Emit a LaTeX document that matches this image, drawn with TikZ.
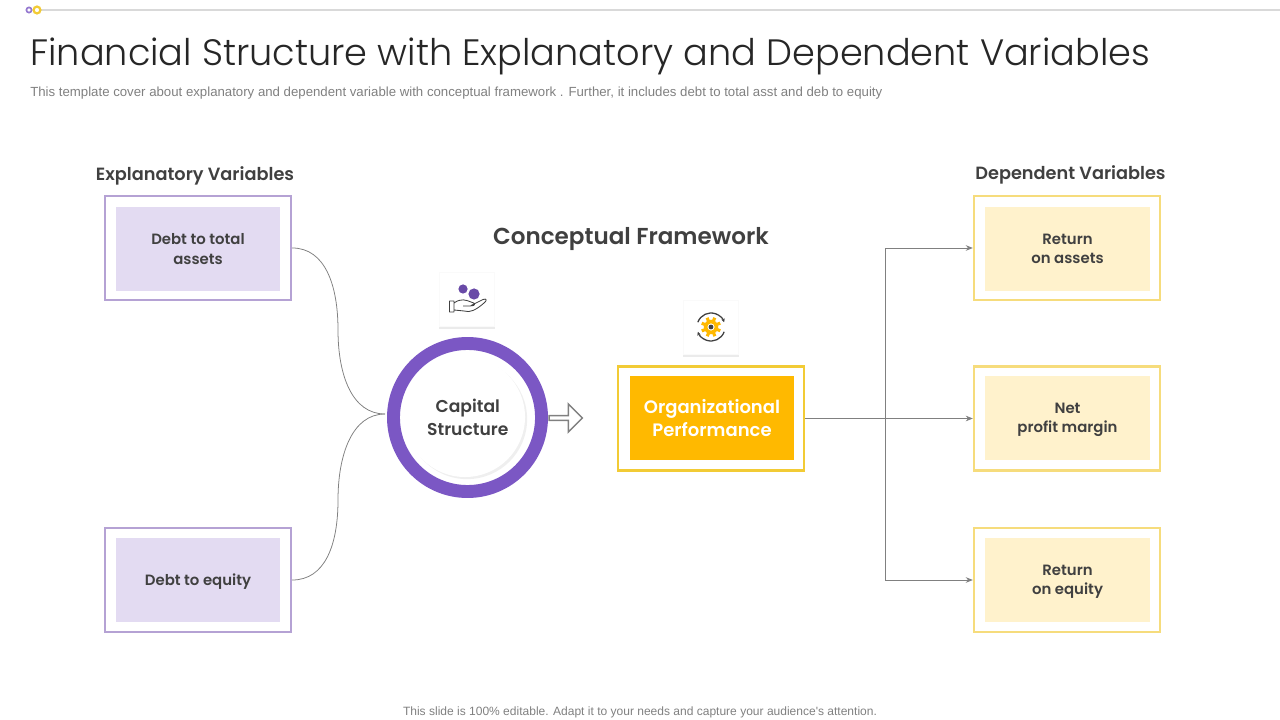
\documentclass[tikz,border=0pt]{standalone}
\usepackage{fontspec}
\setmainfont{Poppins}[UprightFont=* Light,BoldFont=* SemiBold]
\newfontfamily\notefont{Liberation Sans}
\usepackage{xcolor}
\usepackage{tikz}
\usetikzlibrary{shapes.arrows,shadows,arrows.meta}

\definecolor{inktext}{HTML}{404040}
\definecolor{lilacline}{HTML}{B5A2D4}
\definecolor{lilacfill}{HTML}{E3DBF2}
\definecolor{sandline}{HTML}{F6DC7C}
\definecolor{sandfill}{HTML}{FFF2CC}
\definecolor{goldline}{HTML}{F2CB35}
\definecolor{goldfill}{HTML}{FFB900}
\definecolor{ringcol}{HTML}{7B57C4}
\definecolor{wirecol}{HTML}{808080}

\tikzset{
  framebox/.style={draw, line width=1.7pt, minimum width=4.65cm, minimum height=2.6cm},
  fillbox/.style={minimum width=4.12cm, minimum height=2.1cm, align=center, text=inktext, text depth=0pt,
    font=\fontsize{10.6}{13.6}\selectfont\bfseries},
  headlabel/.style={text=inktext, inner sep=0pt, font=\fontsize{12.6}{16}\selectfont\bfseries},
  iconcard/.style={fill=white, draw=black!2, minimum width=1.38cm, minimum height=1.36cm,
    drop shadow={opacity=0.16, shadow xshift=0pt, shadow yshift=-2pt}},
  wire/.style={draw=wirecol, line width=0.55pt},
  wirearrow/.style={wire, -{Stealth[length=5pt,width=4pt]}}
}

\begin{document}
\begin{tikzpicture}[x=0.025cm,y=-0.025cm]
  \useasboundingbox (0,0) rectangle (1280,720);

  % top rule
  \draw[line width=1.4pt, color=black!15] (41,10) -- (1280,10);
  \draw[draw=ringcol!80, line width=1.2pt] (29,10) circle (2.6);
  \draw[draw=goldline, line width=1.6pt] (37,10) circle (3.4);

  \node(Title) at (30,56) [anchor=west, inner sep=0pt, text=black!85,
     font=\fontsize{26.1}{30}\selectfont] {Financial Structure with Explanatory and Dependent Variables};
  \node(Subtitle) at (30,93) [anchor=west, inner sep=0pt, text=black!50,
     font=\notefont\fontsize{9.4}{11}\selectfont] {This template cover about explanatory and dependent variable with conceptual framework . Further, it includes debt to total asst and deb to equity};

  \node(HeadLeft) at (195,175.5) [headlabel] {Explanatory Variables};
  \node(HeadRight) at (1070.5,175) [headlabel] {Dependent Variables};
  \node(HeadMid) at (631,239.5) [headlabel, font=\fontsize{16.4}{20}\selectfont\bfseries] {Conceptual Framework};

  % left boxes
  \node(L1) at (198,248) [framebox, draw=lilacline] {};
  \node(L2) at (198,580) [framebox, draw=lilacline] {};
  \node(L1t) at (198,249) [fillbox, fill=lilacfill] {Debt to total\\assets};
  \node(L2t) at (198,580) [fillbox, fill=lilacfill] {Debt to equity};

  % right boxes
  \node(R1) at (1067,248) [framebox, draw=sandline] {};
  \node(R2) at (1067,418.5) [framebox, draw=sandline] {};
  \node(R3) at (1067,580) [framebox, draw=sandline] {};
  \node(R1t) at (1067.5,249) [fillbox, fill=sandfill] {Return\\on assets};
  \node(R2t) at (1067.5,418) [fillbox, fill=sandfill] {Net\\profit margin};
  \node(R3t) at (1067.5,580) [fillbox, fill=sandfill] {Return\\on equity};

  % middle
  \node(Ring) at (467.5,417.5) [circle, draw=ringcol, fill=white, line width=9.2pt, minimum size=3.7cm] {};
  \node(Core) at (465,417) [circle, fill=white, minimum size=3cm, align=center, text=inktext,
     font=\fontsize{12.2}{16.4}\selectfont\bfseries,
     drop shadow={opacity=0.12, shadow xshift=1.5pt, shadow yshift=-1.5pt}] {\hspace*{4pt}Capital\\\hspace*{4pt}Structure};
  \node(Org) at (711,418.5) [framebox, draw=goldline] {};
  \node(Orgt) at (712,418) [fillbox, fill=goldfill, text=white,
     font=\fontsize{12.8}{16.4}\selectfont\bfseries] {Organizational\\Performance};
  \node(Push) at (564.5,418) [single arrow, draw=wirecol, fill=white, line width=1.1pt, inner sep=0pt,
     minimum height=0.83cm, minimum width=0.7cm, single arrow head extend=0.09cm] {};

  % icon cards
  \node(CardHand) at (467,299) [iconcard] {};
  \node(CardGear) at (711,327) [iconcard] {};

  % coins and hand
  \fill[ringcol!85!black] (463,289) circle (4.6);
  \fill[ringcol!85!black] (474,294) circle (5.6);
  \draw[inktext, line width=0.6pt, line join=round]
    (449.5,301) -- (454,301) -- (454,312) -- (449.5,312) -- cycle
    (454,303) .. controls (461,298) and (466,300) .. (471,302)
    .. controls (476,303) and (476,306) .. (470,306) -- (463,306)
    (471,305.5) -- (483,299.5) .. controls (487,298) and (487,301) .. (484,303)
    .. controls (476,310) and (470,313) .. (464,311) -- (454,310);

  % gear
  \foreach \a in {0,45,...,315}
    \draw[goldfill, line width=2.2pt] (711,327) ++(\a+22:5.5) -- ++(\a+22:4.5);
  \draw[goldfill, line width=2.4pt] (711,327) circle (5.5);
  \fill[inktext] (711,327) circle (2.4);
  \draw[inktext, line width=0.9pt, ->, >={Stealth[length=2.5pt,width=2.5pt]}] (711,327) ++(200:14) arc (200:340:14);
  \draw[inktext, line width=0.9pt, ->, >={Stealth[length=2.5pt,width=2.5pt]}] (711,327) ++(20:14) arc (20:160:14);

  % connectors
  \coordinate(Join) at (385,414);
  \coordinate(Fork) at (885,418.5);
  \draw[wire] (L1.east) .. controls (325,248) and (338,285) .. (338,330) .. controls (338,375) and (352,414) .. (Join);
  \draw[wire] (L2.east) .. controls (325,580) and (338,545) .. (338,500) .. controls (338,455) and (352,414) .. (Join);
  \draw[wirearrow] (Org.east) -- (R2.west);
  \draw[wirearrow] (Fork) |- (R1.west);
  \draw[wirearrow] (Fork) |- (R3.west);

  \node(Foot) at (640,712) [inner sep=0pt, text=black!50, font=\notefont\fontsize{8.55}{10}\selectfont]
     {This slide is 100\% editable. Adapt it to your needs and capture your audience's attention.};
\end{tikzpicture}
\end{document}
